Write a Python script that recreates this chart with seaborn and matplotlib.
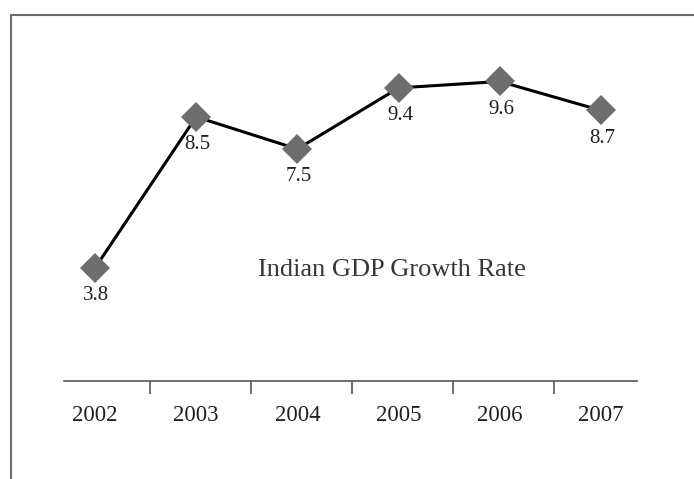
import numpy as np
import pandas as pd
import matplotlib
matplotlib.use("Agg")
import matplotlib.pyplot as plt
from matplotlib.lines import Line2D
import seaborn as sns

years = ["2002", "2003", "2004", "2005", "2006", "2007"]
growth = [3.8, 8.5, 7.5, 9.4, 9.6, 8.7]
title = "Indian GDP Growth Rate"

df = pd.DataFrame({"pos": np.arange(len(years)), "growth": growth})

sns.set_theme(style="white")
plt.rcParams["font.family"] = ["Liberation Serif", "DejaVu Serif"]

W, H, DPI = 694, 479, 100
fig = plt.figure(figsize=(W / DPI, H / DPI), dpi=DPI)

# plot area in pixel units (left, bottom, right, top measured from top-left)
px_left, px_right, px_top, px_bottom = 64, 637, 30, 381
ax = fig.add_axes([px_left / W, (H - px_bottom) / H,
                   (px_right - px_left) / W, (px_bottom - px_top) / H])

sns.lineplot(data=df, x="pos", y="growth", ax=ax, color="black", linewidth=2.2,
             marker="D", markersize=15, markerfacecolor="#6d6d6d",
             markeredgecolor="#6d6d6d", markeredgewidth=0)

ax.set_xlim(-0.306, 5.356)
ax.set_ylim(0.29, 11.2)

for i, v in enumerate(growth):
    ax.annotate(f"{v}", (i, v), xytext=(1, -20), textcoords="offset points",
                ha="center", va="center", fontsize=15, color="#231f20")

ax.text(0.572, 0.316, title, transform=ax.transAxes, ha="center", va="center",
        fontsize=19, color="#3a3435")

# category axis: labels at centres, tick marks between categories
ax.set_xticks(np.arange(len(years)))
ax.set_xticklabels(years, fontsize=16.5, color="#231f20")
ax.tick_params(axis="x", which="major", length=0, pad=17)
ax.set_xticks(np.arange(len(years) - 1) + 0.54, minor=True)
ax.tick_params(axis="x", which="minor", length=9.4, width=1.2,
               color="#555555", direction="out", bottom=True)
ax.set_yticks([])

for s in ["top", "right", "left"]:
    ax.spines[s].set_visible(False)
ax.spines["bottom"].set_color("#555555")
ax.spines["bottom"].set_linewidth(1.2)

ax.set_xlabel("")
ax.set_ylabel("")

# outer frame (top and left edges)
fy = 1 - 15 / H
fx = 11 / W
fig.add_artist(Line2D([fx, 1.01], [fy, fy], transform=fig.transFigure,
                      color="#6a6a6a", linewidth=1.5))
fig.add_artist(Line2D([fx, fx], [fy, -0.01], transform=fig.transFigure,
                      color="#6a6a6a", linewidth=1.5))

fig.savefig("out.png", dpi=DPI, facecolor="white")
